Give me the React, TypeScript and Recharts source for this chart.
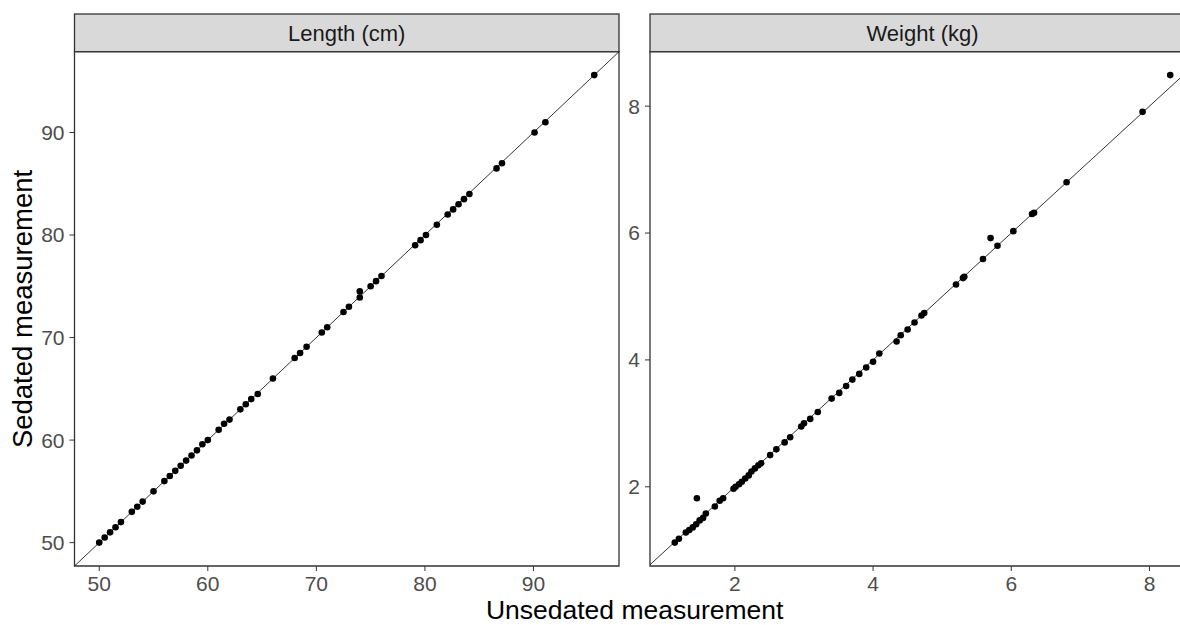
import { ScatterChart, Scatter, XAxis, YAxis, ReferenceLine, ReferenceArea } from "recharts";

// Length (cm) panel
const lengthUnsedated = [
  50, 50.5, 51, 51.5, 52, 53, 53.5, 54, 55, 56, 56.5, 57, 57.5, 58, 58.5, 59, 59.5, 60, 61, 61.5, 62, 63,
  63.5, 64, 64.6, 66, 68, 68.5, 69.1, 70.5, 71, 72.5, 73, 74, 74, 75, 75.5, 76, 79.1, 79.6, 80.1, 81.1,
  82.1, 82.6, 83.1, 83.6, 84.1, 86.6, 87.1, 90.1, 91.1, 95.6,
];
const lengthSedated = [
  50, 50.5, 51, 51.5, 52, 53, 53.5, 54, 55, 56, 56.5, 57, 57.5, 58, 58.5, 59, 59.6, 60, 61, 61.6, 62, 63,
  63.5, 64, 64.5, 66, 68, 68.5, 69.1, 70.5, 71, 72.5, 73, 73.9, 74.5, 75, 75.5, 76, 79, 79.5, 80, 81,
  82, 82.5, 83, 83.5, 84, 86.5, 87, 90, 91, 95.6,
];
const lengthTicks = [50, 60, 70, 80, 90];

// Weight (kg) panel
const weightUnsedated = [
  1.13, 1.19, 1.29, 1.34, 1.39, 1.44, 1.49, 1.54, 1.58, 1.45, 1.71, 1.78, 1.83, 1.98, 2.01, 2.06, 2.1,
  2.15, 2.2, 2.24, 2.29, 2.34, 2.38, 2.51, 2.6, 2.72, 2.8, 2.96, 3.0, 3.09, 3.2, 3.4, 3.51, 3.61, 3.7,
  3.8, 3.9, 4.0, 4.09, 4.34, 4.4, 4.5, 4.6, 4.7, 4.74, 5.2, 5.3, 5.32, 5.59, 5.7, 5.8, 6.03, 6.3, 6.33,
  6.8, 7.9, 8.3,
];
const weightSedated = [
  1.12, 1.18, 1.28, 1.32, 1.36, 1.41, 1.47, 1.51, 1.58, 1.82, 1.69, 1.78, 1.82, 1.97, 2.0, 2.04, 2.08,
  2.13, 2.18, 2.24, 2.29, 2.34, 2.37, 2.5, 2.59, 2.7, 2.78, 2.95, 3.0, 3.07, 3.18, 3.39, 3.48, 3.59, 3.69,
  3.78, 3.88, 3.97, 4.1, 4.29, 4.39, 4.48, 4.59, 4.7, 4.74, 5.19, 5.29, 5.31, 5.59, 5.92, 5.8, 6.03, 6.3,
  6.32, 6.8, 7.91, 8.49,
];
const weightTicks = [2, 4, 6, 8];

const FONT = "'Liberation Sans', Arial, sans-serif";
const TICK = { fill: "#4d4d4d", fontSize: 21, fontFamily: FONT };

// ggplot-style 5% expansion of the data range
function expand(v: number[]): [number, number] {
  const lo = Math.min(...v);
  const hi = Math.max(...v);
  const pad = (hi - lo) * 0.05;
  return [lo - pad, hi + pad];
}

const dot = (props: any) => <circle cx={props.cx} cy={props.cy} r={3.3} fill="#000" />;

function Panel(props: {
  xs: number[];
  ys: number[];
  ticks: number[];
  width: number;
  yAxisWidth: number;
  right: number;
}) {
  const { xs, ys, ticks, width, yAxisWidth, right } = props;
  const data = xs.map((x, i) => ({ x, y: ys[i] }));
  const xd = expand(xs);
  const yd = expand(ys);
  const lo = Math.max(xd[0], yd[0]);
  const hi = Math.min(xd[1], yd[1]);
  return (
    <ScatterChart width={width} height={625} margin={{ top: 51.7, right, bottom: 29, left: 0 }}>
      <XAxis
        type="number"
        dataKey="x"
        domain={xd}
        ticks={ticks}
        allowDataOverflow
        height={30}
        tick={TICK}
        tickSize={5}
        tickMargin={5}
        tickLine={{ stroke: "#333" }}
        axisLine={false}
      />
      <YAxis
        type="number"
        dataKey="y"
        domain={yd}
        ticks={ticks}
        allowDataOverflow
        width={yAxisWidth}
        tick={TICK}
        tickSize={5}
        tickMargin={5}
        tickLine={{ stroke: "#333" }}
        axisLine={false}
      />
      <ReferenceLine
        segment={[
          { x: lo, y: lo },
          { x: hi, y: hi },
        ]}
        stroke="#000"
        strokeWidth={0.8}
        ifOverflow="hidden"
      />
      <Scatter data={data} shape={dot} isAnimationActive={false} />
      <ReferenceArea
        x1={xd[0]}
        x2={xd[1]}
        y1={yd[0]}
        y2={yd[1]}
        fill="none"
        stroke="#333"
        strokeWidth={1.3}
        fillOpacity={0}
      />
    </ScatterChart>
  );
}

export default function App() {
  return (
    <div
      style={{
        position: "absolute",
        left: 0,
        top: 0,
        width: 1180,
        height: 625,
        overflow: "hidden",
        background: "#fff",
        fontFamily: FONT,
      }}
    >
      <div style={{ position: "absolute", left: 0, top: 0 }}>
        <Panel xs={lengthUnsedated} ys={lengthSedated} ticks={lengthTicks} width={625} yAxisWidth={74.5} right={6} />
      </div>
      <div style={{ position: "absolute", left: 600, top: 0 }}>
        <Panel xs={weightUnsedated} ys={weightSedated} ticks={weightTicks} width={620} yAxisWidth={50} right={25} />
      </div>
      <svg width={1180} height={625} style={{ position: "absolute", left: 0, top: 0, pointerEvents: "none" }}>
        <rect x={74.5} y={14} width={544.5} height={37.7} fill="#d9d9d9" stroke="#333" strokeWidth={1.3} />
        <text x={346.7} y={33} textAnchor="middle" dominantBaseline="central" fontSize={22} fill="#1a1a1a" fontFamily={FONT}>
          Length (cm)
        </text>
        <rect x={650} y={14} width={545} height={37.7} fill="#d9d9d9" stroke="#333" strokeWidth={1.3} />
        <text x={922.5} y={33} textAnchor="middle" dominantBaseline="central" fontSize={22} fill="#1a1a1a" fontFamily={FONT}>
          Weight (kg)
        </text>
        <text x={634.7} y={619} textAnchor="middle" fontSize={26.5} fill="#000" fontFamily={FONT}>
          Unsedated measurement
        </text>
        <text
          transform="translate(22,309) rotate(-90)"
          textAnchor="middle"
          dominantBaseline="central"
          fontSize={27.5}
          fill="#000"
          fontFamily={FONT}
        >
          Sedated measurement
        </text>
      </svg>
    </div>
  );
}
